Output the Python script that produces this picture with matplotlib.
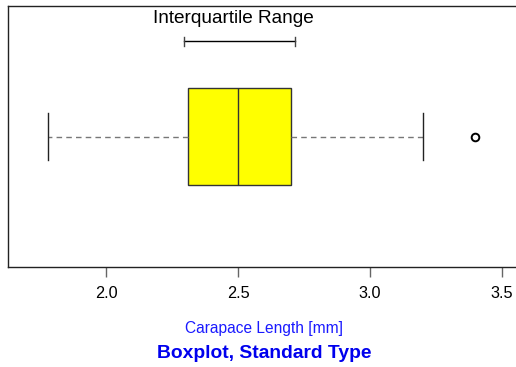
import matplotlib
matplotlib.use("Agg")
import matplotlib.pyplot as plt

plt.rcParams['font.family'] = ['Liberation Sans', 'DejaVu Sans']

# five-number summary of carapace length (mm) plus the single outlier
q1 = 2.31
median = 2.50
q3 = 2.70
whisker_low = 1.78
whisker_high = 3.20
outliers = [3.40]

# ends of the interquartile range bracket
iqr_bracket = [2.295, 2.715]

tick_values = [2.0, 2.5, 3.0, 3.5]
tick_labels = ['2.0', '2.5', '3.0', '3.5']

fig = plt.figure(figsize=(5.16, 3.67), dpi=100)
ax = fig.add_axes([8 / 516, 1 - 267 / 367, 512 / 516, 261 / 367])

stats = [{
    'med': median, 'q1': q1, 'q3': q3,
    'whislo': whisker_low, 'whishi': whisker_high,
    'fliers': outliers,
}]
ax.bxp(stats, positions=[1], vert=False, widths=0.372, patch_artist=True,
       boxprops=dict(facecolor='#ffff00', edgecolor='#333333', linewidth=1.0),
       medianprops=dict(color='#333333', linewidth=1.0),
       whiskerprops=dict(color='#777777', linestyle=(0, (4, 3)), linewidth=1.0),
       capprops=dict(color='#222222', linewidth=1.0),
       capwidths=0.18,
       flierprops=dict(marker='o', markersize=5.5, markerfacecolor='none',
                       markeredgecolor='black', markeredgewidth=1.4))

# bracket marking the interquartile range
ax.plot(iqr_bracket, [1.365, 1.365], color='black', linewidth=1.0)
for xb in iqr_bracket:
    ax.plot([xb, xb], [1.348, 1.382], color='#444444', linewidth=1.0)
ax.text(sum(iqr_bracket) / 2 - 0.022, 1.454, 'Interquartile Range',
        ha='center', va='center', fontsize=13.7)

ax.set_xlim(1.627, 3.569)
ax.set_ylim(0.5, 1.5)
ax.set_yticks([])
ax.set_xticks(tick_values)
ax.set_xticklabels(tick_labels, fontsize=11.7)
ax.tick_params(axis='x', length=7, width=1.0, color='#666666', pad=7)
for side in ['left', 'bottom', 'top', 'right']:
    ax.spines[side].set_linewidth(1.0)
    ax.spines[side].set_color('#222222')

fig.text(264 / 516, 1 - 329 / 367, 'Carapace Length [mm]', color='#1a1aff',
         ha='center', va='center', fontsize=11.2)
fig.text(264 / 516, 1 - 353 / 367, 'Boxplot, Standard Type', color='#0000ee',
         ha='center', va='center', fontsize=13.9, fontweight='bold')

fig.savefig('out.png', dpi=100)
